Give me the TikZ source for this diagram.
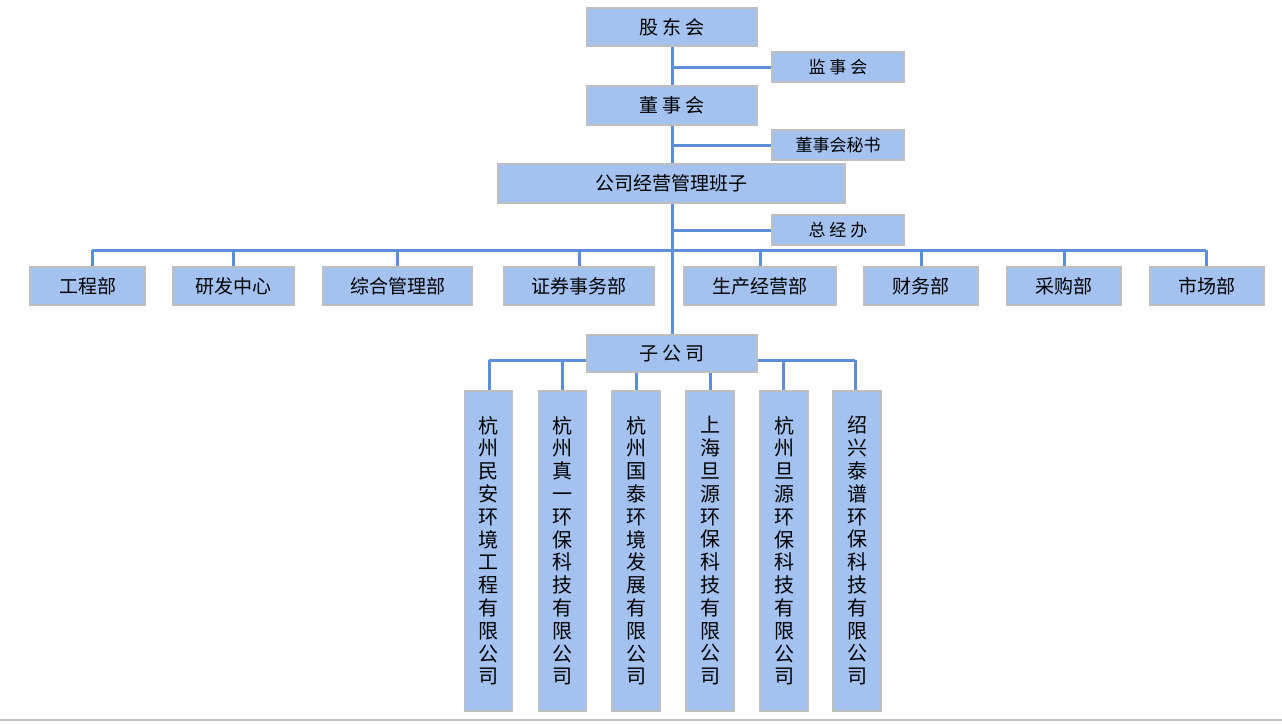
\documentclass[tikz,border=0pt]{standalone}
\usepackage{fontspec}
\setmainfont{Noto Sans CJK SC}
\definecolor{boxfill}{HTML}{A3C2F0}
\definecolor{boxdraw}{HTML}{BEBEBE}
\definecolor{ln}{HTML}{5B8FDC}
\begin{document}
\begin{tikzpicture}[x=1pt,y=-1pt,
  box/.style={draw=boxdraw,line width=1.5pt,fill=boxfill,inner sep=0pt,font=\fontsize{19}{22}\selectfont},
  sbox/.style={box,font=\fontsize{17}{20}\selectfont},
  vbox/.style={box,minimum width=48pt,minimum height=320pt,align=center,font=\fontsize{20}{22.8}\selectfont,anchor=north},
  con/.style={draw=ln,line width=3pt}]
\useasboundingbox (0,0) rectangle (1282,723);
\fill[white] (0,0) rectangle (1282,723);
\draw[boxdraw,line width=2pt] (0,720) -- (1282,720);
% main spine
\coordinate (t0) at (672,46);
\coordinate (b0) at (672,335);
\draw[con] (t0) -- (b0);
\coordinate (j1) at (672,67); \coordinate (j2) at (672,145); \coordinate (j3) at (672,230);
\draw[con] (j1) -- (772,67);
\draw[con] (j2) -- (772,145);
\draw[con] (j3) -- (772,230);
\coordinate (hL) at (92,250); \coordinate (hR) at (1206,250);
\draw[con] (hL) -- (hR);
\foreach \x in {92,233.5,397.5,579,760,921,1064,1206}
  \draw[con] (\x,250) -- (\x,267);
\node[box,minimum width=170pt,minimum height=38pt] (gdh) at (672,27) {股 东 会};
\node[sbox,minimum width=132pt,minimum height=30pt] (jsh) at (838,67) {监 事 会};
\node[box,minimum width=170pt,minimum height=39pt] (dsh) at (672,105.5) {董 事 会};
\node[sbox,minimum width=132pt,minimum height=30pt] (ms) at (838,145) {董事会秘书};
\node[box,minimum width=347pt,minimum height=39pt] (bz) at (671.5,183.5) {公司经营管理班子};
\node[sbox,minimum width=132pt,minimum height=30pt] (zjb) at (838,230) {总 经 办};
\foreach \c/\w/\t [count=\i] in {87.5/115/工程部,233.5/121/研发中心,397.5/149/综合管理部,579/150/证券事务部,760/152/生产经营部,921/114/财务部,1064/114/采购部,1207/114/市场部}
  \node[box,minimum width=\w pt,minimum height=38pt] (d\i) at (\c,286) {\t};
% subsidiaries
\draw[con] (489,360) -- (855,360);
\foreach \x in {489,562,636,710,783,855}
  \draw[con] (\x,360) -- (\x,390);
\node[box,minimum width=170pt,minimum height=37pt] (zgs) at (672,353.5) {子 公 司};
\node[vbox] (s1) at (488.5,390) {杭\\州\\民\\安\\环\\境\\工\\程\\有\\限\\公\\司};
\node[vbox] (s2) at (562.5,390) {杭\\州\\真\\一\\环\\保\\科\\技\\有\\限\\公\\司};
\node[vbox] (s3) at (636,390) {杭\\州\\国\\泰\\环\\境\\发\\展\\有\\限\\公\\司};
\node[vbox] (s4) at (710,390) {上\\海\\旦\\源\\环\\保\\科\\技\\有\\限\\公\\司};
\node[vbox] (s5) at (784,390) {杭\\州\\旦\\源\\环\\保\\科\\技\\有\\限\\公\\司};
\node[vbox] (s6) at (857,390) {绍\\兴\\泰\\谱\\环\\保\\科\\技\\有\\限\\公\\司};
\end{tikzpicture}
\end{document}
